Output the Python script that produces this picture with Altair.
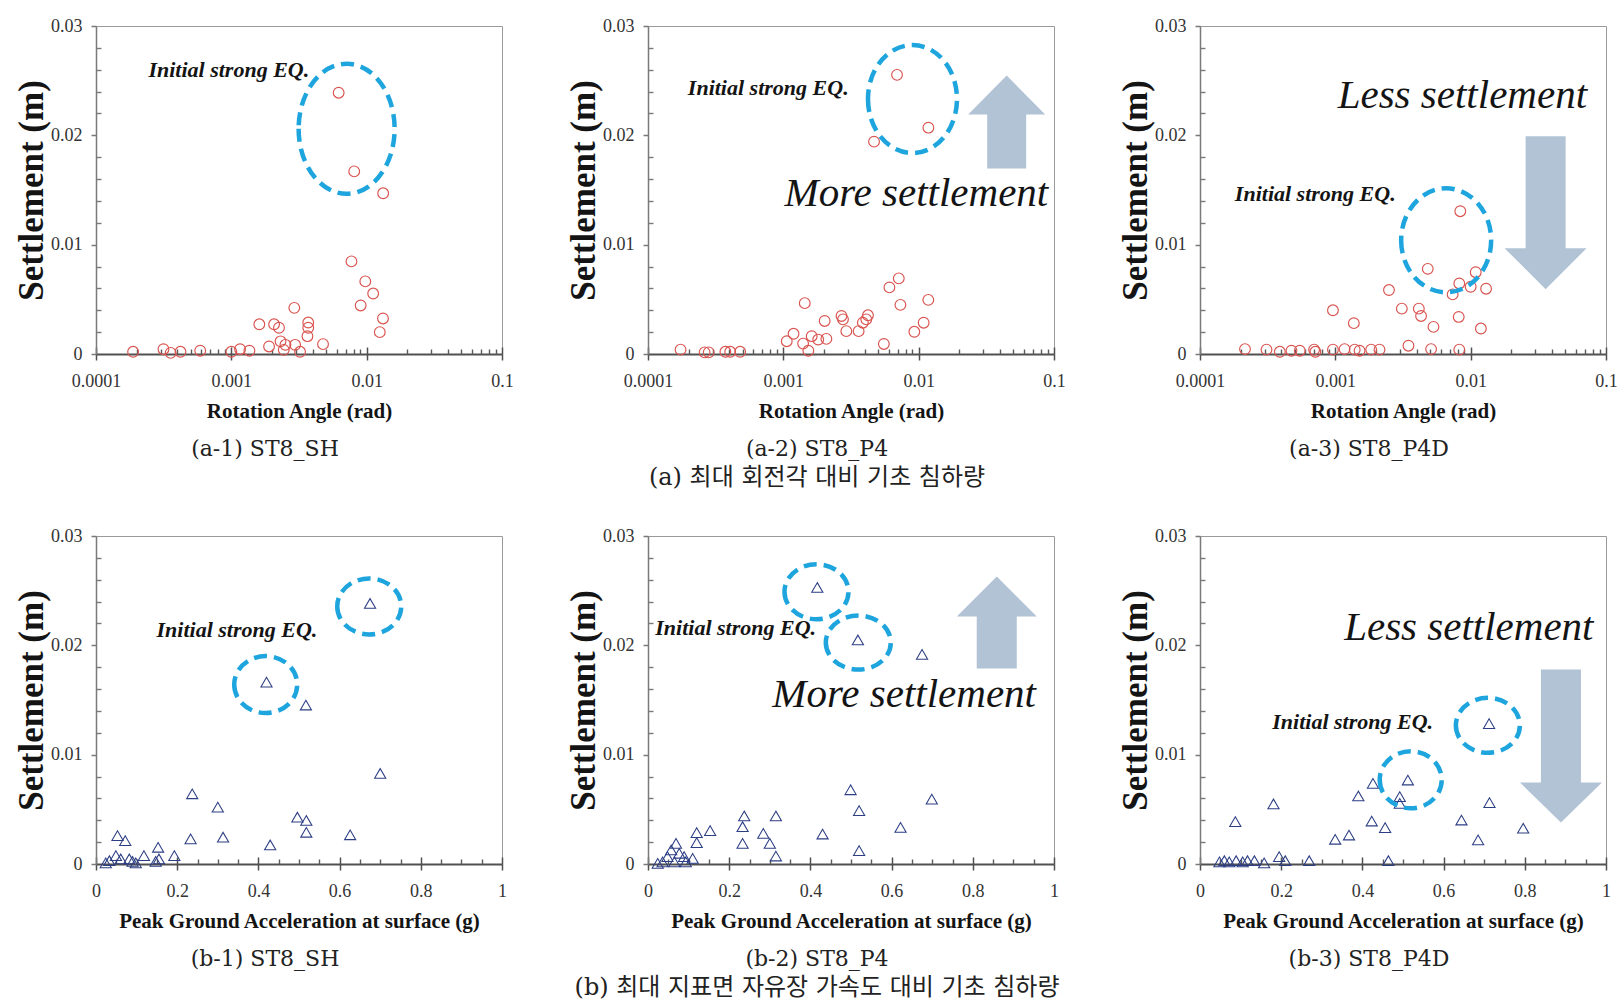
import altair as alt
import pandas as pd

# ---------------- data ----------------
# (a) rotation angle (rad) vs settlement (m)
a1_rot = [0.000188, 0.000315, 0.000356, 0.000421, 0.000589, 0.00100, 0.00116, 0.00136, 0.00161, 0.00190,
          0.00207, 0.00225, 0.00231, 0.00244, 0.00251, 0.00296, 0.00322, 0.00292, 0.00370, 0.00370,
          0.00365, 0.00476, 0.00772, 0.00903, 0.00977, 0.01117, 0.01320, 0.01250, 0.00621, 0.00809, 0.01324]
a1_set = [0.0002, 0.00044, 0.0001, 0.0002, 0.0003, 0.0002, 0.00044, 0.0003, 0.00272, 0.00069,
          0.00272, 0.0024, 0.00116, 0.00038, 0.00084, 0.00084, 0.0002, 0.00422, 0.00288, 0.0024,
          0.00163, 0.0009, 0.00847, 0.00444, 0.00664, 0.00553, 0.00325, 0.0020, 0.0239, 0.0167, 0.0147]

a2_rot = [0.000174, 0.000262, 0.000281, 0.000373, 0.000405, 0.00048, 0.00106, 0.00119, 0.00140, 0.00144,
          0.00153, 0.00162, 0.00181, 0.00208, 0.00202, 0.00269, 0.00276, 0.00292, 0.00360, 0.00387,
          0.00422, 0.00410, 0.00553, 0.00608, 0.00713, 0.00733, 0.00929, 0.01089, 0.01178, 0.00692,
          0.0118, 0.00468]
a2_set = [0.0004, 0.00015, 0.00015, 0.0002, 0.0002, 0.0002, 0.00117, 0.00185, 0.00095, 0.00465,
          0.0003, 0.00163, 0.00132, 0.00138, 0.00302, 0.00348, 0.00317, 0.00209, 0.00209, 0.00286,
          0.00354, 0.00317, 0.00092, 0.00609, 0.00692, 0.00449, 0.00203, 0.00286, 0.00495, 0.02553,
          0.0207, 0.01942]

a3_rot = [0.000215, 0.00031, 0.000389, 0.000474, 0.000546, 0.000697, 0.000712, 0.00096, 0.00117, 0.00139,
          0.00151, 0.00184, 0.00212, 0.00096, 0.00137, 0.00249, 0.0031, 0.00414, 0.0043, 0.00531,
          0.00347, 0.0051, 0.00824, 0.00816, 0.0119, 0.00736, 0.00824, 0.0100, 0.0130, 0.0109,
          0.00482, 0.00838]
a3_set = [0.00045, 0.0004, 0.0002, 0.0003, 0.0003, 0.0004, 0.0002, 0.0004, 0.00045, 0.0004,
          0.0003, 0.0004, 0.0004, 0.0040, 0.00282, 0.00585, 0.00415, 0.00415, 0.00348, 0.00248,
          0.00076, 0.00045, 0.0004, 0.00339, 0.00233, 0.00545, 0.00645, 0.00615, 0.00597, 0.00748,
          0.00779, 0.01306]

# (b) peak ground acceleration at surface (g) vs settlement (m)
b1_pga = [0.237, 0.300, 0.233, 0.313, 0.429, 0.496, 0.518, 0.518, 0.053, 0.072,
          0.033, 0.049, 0.061, 0.082, 0.090, 0.024, 0.098, 0.118, 0.153, 0.155,
          0.147, 0.193, 0.420, 0.675, 0.517, 0.700, 0.626]
b1_set = [0.00642, 0.0052, 0.0023, 0.00245, 0.00174, 0.00428, 0.00398, 0.0029, 0.0026, 0.00214,
          0.0003, 0.00076, 0.00046, 0.00046, 0.00024, 0.0001, 0.0001, 0.00076, 0.00153, 0.00046,
          0.00024, 0.00076, 0.01663, 0.02383, 0.01454, 0.00828, 0.00267]

b2_pga = [0.120, 0.120, 0.153, 0.237, 0.233, 0.233, 0.284, 0.300, 0.315, 0.315,
          0.430, 0.520, 0.520, 0.499, 0.622, 0.069, 0.057, 0.077, 0.048, 0.089,
          0.110, 0.036, 0.065, 0.024, 0.093, 0.417, 0.517, 0.675, 0.699]
b2_set = [0.00287, 0.00195, 0.00305, 0.00439, 0.00341, 0.00189, 0.0028, 0.00189, 0.00439, 0.00073,
          0.00274, 0.00488, 0.00122, 0.00679, 0.00335, 0.00189, 0.00128, 0.00098, 0.00067, 0.00067,
          0.00052, 0.0002, 0.0002, 0.00006, 0.0002, 0.02529, 0.02049, 0.01917, 0.00593]

b3_pga = [0.087, 0.181, 0.333, 0.367, 0.390, 0.423, 0.426, 0.456, 0.464, 0.492,
          0.492, 0.512, 0.644, 0.685, 0.713, 0.048, 0.060, 0.072, 0.089, 0.105,
          0.117, 0.134, 0.158, 0.195, 0.210, 0.269, 0.712, 0.796]
b3_set = [0.00387, 0.00549, 0.00226, 0.00265, 0.00622, 0.00393, 0.00738, 0.00332, 0.0003, 0.00616,
          0.00555, 0.00768, 0.00402, 0.0022, 0.00561, 0.0002, 0.0003, 0.0002, 0.0003, 0.0002,
          0.0003, 0.0003, 0.0001, 0.00067, 0.0003, 0.0003, 0.01284, 0.00327]

# axis ticks / labels
y_major = [0, 0.01, 0.02, 0.03]
y_minor = [0.002, 0.004, 0.006, 0.008, 0.012, 0.014, 0.016, 0.018, 0.022, 0.024, 0.026, 0.028]
log_major = [0.0001, 0.001, 0.01, 0.1]
log_minor = [0.0002, 0.0003, 0.0004, 0.0005, 0.0006, 0.0007, 0.0008, 0.0009,
             0.002, 0.003, 0.004, 0.005, 0.006, 0.007, 0.008, 0.009,
             0.02, 0.03, 0.04, 0.05, 0.06, 0.07, 0.08, 0.09]
lin_major = [0, 0.2, 0.4, 0.6, 0.8, 1]
lin_minor = [0.05, 0.1, 0.15, 0.25, 0.3, 0.35, 0.45, 0.5, 0.55, 0.65, 0.7, 0.75, 0.85, 0.9, 0.95]

captions = ["(a-1) ST8_SH", "(a-2) ST8_P4", "(a-3) ST8_P4D",
            "(b-1) ST8_SH", "(b-2) ST8_P4", "(b-3) ST8_P4D"]
group_a = "(a) 최대 회전각 대비 기초 침하량"
group_b = "(b) 최대 지표면 자유장 가속도 대비 기초 침하량"
note_initial = "Initial strong EQ."
note_more = "More settlement"
note_less = "Less settlement"

# ---------------- styling ----------------
W, H = 406, 328
SERIF = "Liberation Serif"
CAPFONT = "DejaVu Serif, Noto Sans CJK KR"
RED = "#d9534f"
NAVY = "#2c3e84"
CYAN = "#1ea5de"
ARROW = "#b2c3d5"


def ellipse_path(rx, ry):
    return f"M {-rx},0 A {rx},{ry} 0 1,0 {rx},0 A {rx},{ry} 0 1,0 {-rx},0 Z"


def arrow_path(w, s, h, hh, up=True):
    t = -h / 2
    b = h / 2
    if up:
        return (f"M 0,{t} L {w/2},{t+hh} L {s/2},{t+hh} L {s/2},{b} L {-s/2},{b} "
                f"L {-s/2},{t+hh} L {-w/2},{t+hh} Z")
    return (f"M 0,{b} L {w/2},{b-hh} L {s/2},{b-hh} L {s/2},{t} L {-s/2},{t} "
            f"L {-s/2},{b-hh} L {-w/2},{b-hh} Z")


def panel(xv, yv, kind, ellipses, arrow, small_notes, big_notes, caption, group=None):
    df = pd.DataFrame({"x": xv, "y": yv})
    if kind == "a":
        xs = alt.Scale(type="log", domain=[0.0001, 0.1], nice=False)
        major, minor = log_major, log_minor
        xtitle = "Rotation Angle (rad)"
        pts = alt.Chart(df).mark_point(shape="circle", filled=False, color=RED,
                                       size=115, strokeWidth=1.15, opacity=1)
    else:
        xs = alt.Scale(type="linear", domain=[0, 1], nice=False, zero=False)
        major, minor = lin_major, lin_minor
        xtitle = "Peak Ground Acceleration at surface (g)"
        pts = alt.Chart(df).mark_point(shape="triangle-up", filled=False, color=NAVY,
                                       size=125, strokeWidth=1.05, opacity=1)
    ys = alt.Scale(domain=[0, 0.03], nice=False, zero=False)
    noy = alt.Y("y:Q", scale=ys, axis=None)
    nox = alt.X("x:Q", scale=xs, axis=None)

    main = pts.encode(
        x=alt.X("x:Q", scale=xs, axis=alt.Axis(
            orient="bottom", values=major, labelExpr="format(datum.value, '~g')",
            title=xtitle, tickSize=6, tickWidth=1.5, labelPadding=12, titleY=57,
            titleBaseline="middle", domainColor="#505050", domainWidth=2,
            tickColor="#505050", labelFlush=False)),
        y=alt.Y("y:Q", scale=ys, axis=alt.Axis(
            orient="left", values=y_major,
            labelExpr="datum.value == 0 ? '0' : format(datum.value, '.2f')",
            title="Settlement (m)", tickSize=5, tickWidth=1.5, labelPadding=9, titleX=-54,
            titleBaseline="alphabetic", titleFontSize=35, domainColor="#7a7a7a",
            domainWidth=1.5, tickColor="#7a7a7a")),
    )
    inner_x_major = alt.Chart(df).mark_point(opacity=0).encode(
        x=alt.X("x:Q", scale=xs, axis=alt.Axis(
            orient="bottom", values=major, labels=False, domain=False, title=None,
            tickSize=7, tickWidth=1.5, offset=-7, tickColor="#505050")),
        y=noy)
    inner_x_minor = alt.Chart(df).mark_point(opacity=0).encode(
        x=alt.X("x:Q", scale=xs, axis=alt.Axis(
            orient="bottom", values=minor, labels=False, domain=False, title=None,
            tickSize=5, tickWidth=1.4, offset=-5, tickColor="#5a5a5a")),
        y=noy)
    inner_y_minor = alt.Chart(df).mark_point(opacity=0).encode(
        x=nox,
        y=alt.Y("y:Q", scale=ys, axis=alt.Axis(
            orient="left", values=y_minor, labels=False, domain=False, title=None,
            tickSize=5, tickWidth=1.4, offset=-5, tickColor="#7a7a7a")))

    layers = []
    if arrow is not None:
        cx, cy, w, s, h, hh, up = arrow
        adf = pd.DataFrame({"x": [cx], "y": [cy], "path": [arrow_path(w, s, h, hh, up)]})
        layers.append(alt.Chart(adf).mark_point(filled=True, color=ARROW, size=4, opacity=1,
                                                strokeWidth=0).encode(
            x=nox, y=noy, shape=alt.Shape("path:N", scale=None)))
    layers += [main, inner_x_major, inner_x_minor, inner_y_minor]

    edf = pd.DataFrame({"x": [e[0] for e in ellipses], "y": [e[1] for e in ellipses],
                        "path": [ellipse_path(e[2], e[3]) for e in ellipses]})
    layers.append(alt.Chart(edf).mark_point(filled=False, color=CYAN, size=4, opacity=1,
                                            strokeWidth=4.5, strokeDash=[13, 7]).encode(
        x=nox, y=noy, shape=alt.Shape("path:N", scale=None)))

    sdf = pd.DataFrame({"x": [n[0] for n in small_notes], "y": [n[1] for n in small_notes],
                        "t": [note_initial for _ in small_notes]})
    layers.append(alt.Chart(sdf).mark_text(align="left", baseline="middle", font=SERIF,
                                           fontStyle="italic", fontWeight="bold", fontSize=22,
                                           color="#141414").encode(x=nox, y=noy, text="t:N"))
    if big_notes:
        bdf = pd.DataFrame({"x": [n[0] for n in big_notes], "y": [n[1] for n in big_notes],
                            "t": [n[2] for n in big_notes]})
        layers.append(alt.Chart(bdf).mark_text(align="left", baseline="alphabetic", font=SERIF,
                                               fontStyle="italic", fontSize=41,
                                               color="#141414").encode(x=nox, y=noy, text="t:N"))

    tp = dict(text=caption, orient="bottom", anchor="middle", font=CAPFONT,
              fontSize=22, fontWeight="normal", color="#222222", offset=18, dx=-34)
    if group is not None:
        tp.update(subtitle=group, subtitleFont=CAPFONT, subtitleFontSize=24,
                  subtitleColor="#222222", subtitlePadding=5, subtitleFontWeight="normal")
    return alt.layer(*layers).resolve_axis(x="independent", y="independent").properties(
        width=W, height=H, title=alt.TitleParams(**tp))


p_a1 = panel(a1_rot, a1_set, "a",
             [(0.00711, 0.0206, 48, 65)], None,
             [(0.000244, 0.0260)], [], captions[0])
p_a2 = panel(a2_rot, a2_set, "a",
             [(0.0090, 0.02332, 44.5, 54)], (0.0447, 0.02122, 77, 39, 93, 39, True),
             [(0.000197, 0.02437)], [(0.00102, 0.01355, note_more)], captions[1], group_a)
p_a3 = panel(a3_rot, a3_set, "a",
             [(0.00659, 0.0104, 45, 52)], (0.0358, 0.01292, 82, 40, 153, 41, False),
             [(0.000181, 0.01459)], [(0.00104, 0.02250, note_less)], captions[2])
p_b1 = panel(b1_pga, b1_set, "b",
             [(0.418, 0.01641, 31.5, 28.5), (0.673, 0.02356, 32, 28)], None,
             [(0.149, 0.02138)], [], captions[3])
p_b2 = panel(b2_pga, b2_set, "b",
             [(0.415, 0.0249, 32, 27.5), (0.518, 0.02025, 32.5, 27)],
             (0.859, 0.02208, 80, 40, 92, 40, True),
             [(0.018, 0.02162)], [(0.306, 0.01437, note_more)], captions[4], group_b)
p_b3 = panel(b3_pga, b3_set, "b",
             [(0.709, 0.01268, 32, 27.5), (0.519, 0.0077, 31, 28.5)],
             (0.889, 0.0108, 82, 40, 153, 40, False),
             [(0.178, 0.01297)], [(0.355, 0.02046, note_less)], captions[5])

chart = alt.concat(p_a1, p_a2, p_a3, p_b1, p_b2, p_b3, columns=3,
                   spacing={"row": 182, "column": 146}, bounds="flush").configure_view(
    stroke="#9a9a9a", strokeWidth=1
).configure_axis(
    grid=False, labelFont=SERIF, labelFontSize=18, labelColor="#333333",
    titleFont=SERIF, titleFontSize=21, titleFontWeight="bold", titleColor="#141414"
).properties(
    padding={"left": 13, "top": 16, "right": 5, "bottom": 5}, background="white"
)

chart.save("out.html", embed_options={"renderer": "svg", "actions": False})
